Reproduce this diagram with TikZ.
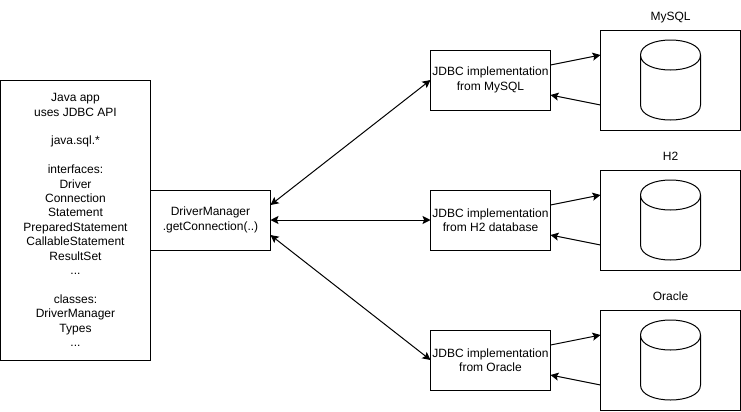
\documentclass[tikz,border=0pt]{standalone}
\usepackage{fontspec}
\setmainfont{Liberation Sans}
\usetikzlibrary{arrows.meta,positioning}

\begin{document}
\begin{tikzpicture}[x=0.75pt, y=-0.75pt, every node/.style={font=\fontsize{9}{10.8}\selectfont, inner sep=0pt, outer sep=0pt}, box/.style={draw, line width=0.75pt, align=center}, implbox/.style={box, minimum width=90pt, minimum height=45pt}, dbbox/.style={box, minimum width=105pt, minimum height=75pt}, dblabel/.style={text height=6.5pt, text depth=2pt}, dbcyl/.pic={\draw[line width=0.75pt] (-30,-25) .. controls (-30,-45) and (30,-45) .. (30,-25) -- (30,25) .. controls (30,45) and (-30,45) .. (-30,25) -- cycle (-30,-25) .. controls (-30,-5) and (30,-5) .. (30,-25);}, arrow/.style={-{Stealth[length=6pt, width=6pt, inset=1.2pt]}, line width=0.75pt}, both/.style={arrow, {Stealth[length=6pt, width=6pt, inset=1.2pt]}-{Stealth[length=6pt, width=6pt, inset=1.2pt]}}]
\useasboundingbox (0,0) rectangle (741,411);
\node[box, minimum width=112.5pt, minimum height=210pt] (app) at (75.5,220) {Java app\\uses JDBC API\\[10.8pt]java.sql.*\\[10.8pt]interfaces:\\Driver\\Connection\\Statement\\PreparedStatement\\CallableStatement\\ResultSet\\...\\[10.8pt]classes:\\DriverManager\\Types\\...};
\node[box, minimum width=90pt, minimum height=45pt] (mgr) [right=0pt of app] {DriverManager\\.getConnection(..)};
\node[implbox] (h2impl) [right=120pt of mgr] {JDBC implementation\\from H2 database};
\node[implbox] (mysqlimpl) [above=60pt of h2impl] {JDBC implementation\\from MySQL};
\node[implbox] (oracleimpl) [below=60pt of h2impl] {JDBC implementation\\from Oracle};
\node[dbbox] (h2box) [right=37.5pt of h2impl] {};
\node[dbbox] (mysqlbox) [right=37.5pt of mysqlimpl] {};
\node[dbbox] (oraclebox) [right=37.5pt of oracleimpl] {};
\pic (h2cyl) at (h2box) {dbcyl};
\pic (mysqlcyl) at (mysqlbox) {dbcyl};
\pic (oraclecyl) at (oraclebox) {dbcyl};
\node[dblabel] (h2label) [above=5.5pt of h2box] {H2};
\node[dblabel] (mysqllabel) [above=5.5pt of mysqlbox] {MySQL};
\node[dblabel] (oraclelabel) [above=5.5pt of oraclebox] {Oracle};
\draw[both] ([yshift=11.25pt]mgr.east) -- (mysqlimpl.west);
\draw[both] (mgr.east) -- (h2impl.west);
\draw[both] ([yshift=-11.25pt]mgr.east) -- (oracleimpl.west);
\draw[arrow] ([yshift=11.25pt]mysqlimpl.east) -- ([yshift=18.75pt]mysqlbox.west);
\draw[arrow] ([yshift=-18.75pt]mysqlbox.west) -- ([yshift=-11.25pt]mysqlimpl.east);
\draw[arrow] ([yshift=11.25pt]h2impl.east) -- ([yshift=18.75pt]h2box.west);
\draw[arrow] ([yshift=-18.75pt]h2box.west) -- ([yshift=-11.25pt]h2impl.east);
\draw[arrow] ([yshift=11.25pt]oracleimpl.east) -- ([yshift=18.75pt]oraclebox.west);
\draw[arrow] ([yshift=-18.75pt]oraclebox.west) -- ([yshift=-11.25pt]oracleimpl.east);
\end{tikzpicture}
\end{document}
